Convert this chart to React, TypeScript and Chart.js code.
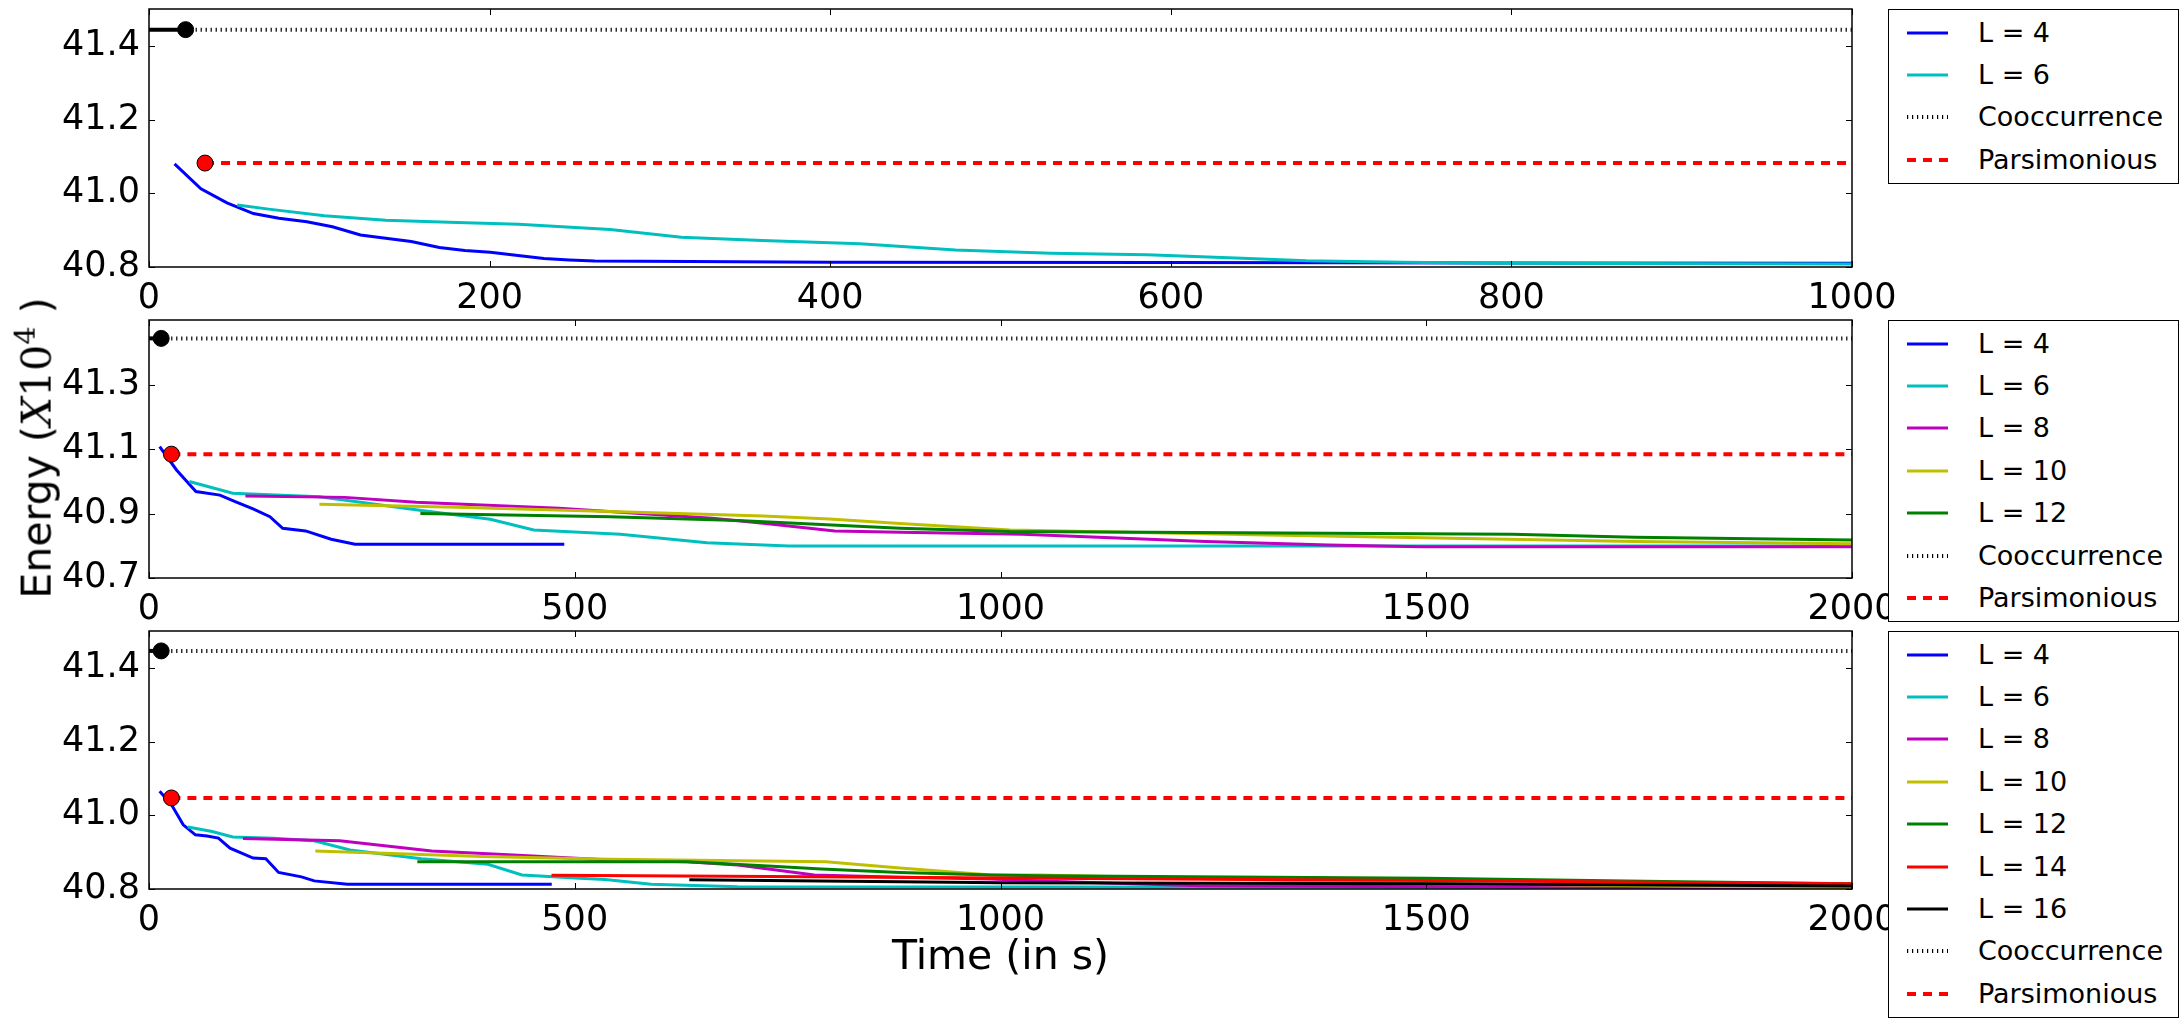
import { useEffect, useRef } from "react"
import { Chart, registerables } from "chart.js"

Chart.register(...registerables)

// [time (s), energy (x10^4)]
// top panel, 0-1000 s
const p1L4 = [
  [15, 41.08], [30.5, 41.012], [45.8, 40.974], [61.3, 40.945], [76.3, 40.932],
  [92.7, 40.923], [107.7, 40.909], [124.2, 40.887], [139, 40.878], [154, 40.869],
  [170.5, 40.853], [185.5, 40.845], [200.4, 40.84], [215.4, 40.832], [231.9, 40.823],
  [246.8, 40.819], [261.8, 40.816], [400, 40.813], [600, 40.812], [800, 40.811], [1000, 40.81],
]
const p1L6 = [
  [51.8, 40.968], [70.3, 40.957], [103, 40.939], [139, 40.927], [181, 40.921],
  [217, 40.916], [270.8, 40.902], [312.6, 40.881], [360, 40.872], [417.5, 40.863],
  [473.6, 40.846], [529.6, 40.837], [586, 40.833], [642, 40.824], [679.6, 40.817],
  [735.8, 40.813], [792, 40.81], [1000, 40.808],
]
const p1Cooc = [21.5, 41.444]
const p1Pars = [32.9, 41.082]

// middle panel, 0-2000 s
const p2L4 = [
  [12.5, 41.107], [32.3, 41.035], [55.1, 40.968], [83.3, 40.957], [101.2, 40.937],
  [122.2, 40.914], [142, 40.89], [157, 40.854], [183.9, 40.846], [213.9, 40.82],
  [242, 40.805], [487.7, 40.805],
]
const p2L6 = [
  [47.3, 40.999], [98.3, 40.963], [200, 40.952], [242, 40.937], [320, 40.909],
  [400.8, 40.882], [451.8, 40.849], [553.6, 40.836], [655.4, 40.809], [751.4, 40.799],
  [2000, 40.799],
]
const p2L8 = [
  [113.2, 40.954], [230, 40.95], [313.9, 40.935], [481.7, 40.916], [661.4, 40.885],
  [721.4, 40.87], [805.3, 40.846], [882, 40.842], [1025.8, 40.836], [1241, 40.813],
  [1385.5, 40.802], [1493, 40.797], [2000, 40.797],
]
const p2L10 = [
  [200.1, 40.929], [361.8, 40.919], [541.6, 40.906], [721.4, 40.892], [799.3, 40.883],
  [882, 40.869], [1011.4, 40.849], [1313.4, 40.833], [1529, 40.823], [1745, 40.813],
  [2000, 40.806],
]
const p2L12 = [
  [318.7, 40.9], [541.6, 40.89], [691.5, 40.878], [882, 40.854], [1011, 40.844],
  [1601, 40.836], [1745, 40.826], [2000, 40.818],
]
const p2Cooc = [14.3, 41.443]
const p2Pars = [26.3, 41.084]

// bottom panel, 0-2000 s
const p3L4 = [
  [12.5, 41.065], [26.3, 41.029], [40.2, 40.974], [54.5, 40.947], [68.2, 40.944],
  [81.5, 40.938], [95.2, 40.911], [122.3, 40.884], [137.2, 40.882], [152.2, 40.845],
  [179.1, 40.833], [194.1, 40.822], [233, 40.813], [473, 40.813],
]
const p3L6 = [
  [45.6, 40.968], [74.2, 40.956], [98.3, 40.941], [146.2, 40.938], [194.1, 40.931],
  [236, 40.906], [319.9, 40.882], [397.9, 40.867], [438, 40.838], [506, 40.829],
  [535.6, 40.826], [589.6, 40.813], [691.5, 40.806], [2000, 40.805],
]
const p3L8 = [
  [110.3, 40.937], [224.1, 40.931], [331.9, 40.903], [421.8, 40.893], [541.6, 40.879],
  [632, 40.874], [691.5, 40.865], [781.3, 40.838], [882, 40.832], [989, 40.827],
  [1046, 40.822], [1234, 40.809], [1500, 40.806], [2000, 40.803],
]
const p3L10 = [
  [195.3, 40.903], [391.9, 40.888], [541.6, 40.881], [795, 40.874], [882, 40.857],
  [989, 40.838], [1046, 40.838], [1500, 40.815], [2000, 40.803],
]
const p3L12 = [
  [315.1, 40.874], [632, 40.874], [721.5, 40.863], [789.7, 40.854], [882, 40.845],
  [989, 40.838], [1046, 40.836], [1500, 40.829], [1800, 40.82], [2000, 40.814],
]
const p3L14 = [[472.7, 40.837], [780, 40.833], [1000, 40.83], [1500, 40.823], [2000, 40.814]]
const p3L16 = [[634.5, 40.825], [882, 40.82], [1000, 40.817], [1500, 40.814], [2000, 40.808]]
const p3Cooc = [14.3, 41.446]
const p3Pars = [26.3, 41.047]

const xTicks1000 = [0, 200, 400, 600, 800, 1000]
const xTicks2000 = [0, 500, 1000, 1500, 2000]
const yTicksEven = [40.8, 41.0, 41.2, 41.4]
const yTicksOdd = [40.7, 40.9, 41.1, 41.3]

const FONT = "DejaVu Sans"
const CANVAS_W = 1912
const PAD_TOP = 40
const AREA_H = 258
const AXIS_H = 52

// matplotlib classic colours
const colors: Record<string, string> = {
  "L = 4": "#0000ff",
  "L = 6": "#00bfbf",
  "L = 8": "#bf00bf",
  "L = 10": "#bfbf00",
  "L = 12": "#008000",
  "L = 14": "#ff0000",
  "L = 16": "#000000",
}

const DOT = [1.2, 3.8]
const DASH = [9, 7]

type Series = { label: string; data: number[][] }

interface PanelProps {
  top: number
  xMax: number
  xTicks: number[]
  yMin: number
  yMax: number
  yTicks: number[]
  series: Series[]
  cooc: number[]
  pars: number[]
}

// spines on all four sides and inward ticks, like the old matplotlib style
const framePlugin = {
  id: "frame",
  afterDatasetsDraw(chart: any) {
    const { ctx, chartArea: a, scales } = chart
    const tl = 6
    ctx.save()
    ctx.strokeStyle = "#000"
    ctx.lineWidth = 1
    ctx.beginPath()
    scales.x.ticks.forEach((t: any) => {
      const px = Math.round(scales.x.getPixelForValue(t.value)) + 0.5
      ctx.moveTo(px, a.bottom)
      ctx.lineTo(px, a.bottom - tl)
      ctx.moveTo(px, a.top)
      ctx.lineTo(px, a.top + tl)
    })
    scales.y.ticks.forEach((t: any) => {
      const py = Math.round(scales.y.getPixelForValue(t.value)) + 0.5
      ctx.moveTo(a.left, py)
      ctx.lineTo(a.left + tl, py)
      ctx.moveTo(a.right, py)
      ctx.lineTo(a.right - tl, py)
    })
    ctx.stroke()
    ctx.lineWidth = 1.5
    ctx.strokeRect(a.left, a.top, a.right - a.left, a.bottom - a.top)
    ctx.restore()
  },
}

function Panel({ top, xMax, xTicks, yMin, yMax, yTicks, series, cooc, pars }: PanelProps) {
  const chartRef = useRef<HTMLCanvasElement>(null)
  const h = PAD_TOP + AREA_H + AXIS_H

  useEffect(() => {
    if (!chartRef.current) return
    const n = series.length + 2

    const datasets: any[] = series.map((s, i) => ({
      label: s.label,
      data: s.data.map(([x, y]) => ({ x, y })),
      borderColor: colors[s.label],
      borderWidth: 3,
      pointRadius: 0,
      tension: 0,
      fill: false,
      order: n - i,
    }))

    // solid until the result is available, dotted afterwards
    datasets.push({
      label: "Cooccurrence",
      data: [
        { x: 0, y: cooc[1] },
        { x: cooc[0], y: cooc[1] },
        { x: xMax, y: cooc[1] },
      ],
      borderColor: "#000",
      borderWidth: 4,
      pointRadius: [0, 8, 0],
      pointBackgroundColor: "#000",
      pointBorderColor: "#000",
      pointBorderWidth: 1,
      segment: {
        borderDash: (ctx: any) => (ctx.p0DataIndex === 0 ? undefined : DOT),
      },
      order: 2,
    })

    datasets.push({
      label: "Parsimonious",
      data: [
        { x: pars[0], y: pars[1] },
        { x: xMax, y: pars[1] },
      ],
      borderColor: "#ff0000",
      borderWidth: 4,
      borderDash: DASH,
      pointRadius: [8, 0],
      pointBackgroundColor: "#ff0000",
      pointBorderColor: "#000",
      pointBorderWidth: 1,
      order: 1,
    })

    const chart = new Chart(chartRef.current, {
      type: "line",
      data: { datasets },
      options: {
        animation: false,
        responsive: false,
        events: [],
        layout: { padding: { top: PAD_TOP, right: CANVAS_W - 1852, left: 0, bottom: 0 } },
        plugins: {
          legend: { display: false },
          tooltip: { enabled: false },
        },
        scales: {
          x: {
            type: "linear",
            min: 0,
            max: xMax,
            bounds: "data",
            grid: { display: false, drawTicks: false },
            border: { display: false },
            ticks: {
              color: "#000",
              font: { family: FONT, size: 35 },
              padding: 11,
              maxRotation: 0,
              autoSkip: false,
              callback: (v: any) => String(v),
            },
            afterBuildTicks: (s: any) => {
              s.ticks = xTicks.map((value) => ({ value }))
            },
            afterFit: (s: any) => {
              s.height = AXIS_H
            },
          },
          y: {
            type: "linear",
            min: yMin,
            max: yMax,
            bounds: "data",
            grid: { display: false, drawTicks: false },
            border: { display: false },
            ticks: {
              color: "#000",
              font: { family: FONT, size: 35 },
              padding: 9,
              autoSkip: false,
              callback: (v: any) => Number(v).toFixed(1),
            },
            afterBuildTicks: (s: any) => {
              s.ticks = yTicks.map((value) => ({ value }))
            },
            afterFit: (s: any) => {
              s.width = 149
            },
          },
        },
      },
      plugins: [framePlugin],
    })

    return () => {
      chart.destroy()
    }
  }, [])

  return (
    <canvas
      ref={chartRef}
      width={CANVAS_W}
      height={h}
      style={{ position: "absolute", left: 0, top: top - PAD_TOP, width: CANVAS_W, height: h }}
    />
  )
}

type LegendItem = { label: string; color: string; dash?: number[]; width: number }

function Legend({ top, labels }: { top: number; labels: string[] }) {
  const items: LegendItem[] = [
    ...labels.map((l) => ({ label: l, color: colors[l], width: 3 })),
    { label: "Cooccurrence", color: "#000", dash: DOT, width: 4 },
    { label: "Parsimonious", color: "#ff0000", dash: DASH, width: 4 },
  ]
  const pad = 24
  const step = 42.4
  const height = pad * 2 + (items.length - 1) * step
  return (
    <div
      style={{
        position: "absolute",
        left: 1888,
        top,
        width: 291,
        height,
        boxSizing: "border-box",
        border: "1.5px solid #000",
        background: "#fff",
        zIndex: 2,
      }}
    >
      {items.map((it, i) => (
        <div
          key={it.label}
          style={{
            position: "absolute",
            left: 0,
            top: pad + i * step - 21 - 1.5,
            height: 42,
            width: "100%",
            display: "flex",
            alignItems: "center",
          }}
        >
          <svg width={41} height={8} style={{ position: "absolute", left: 18 }}>
            <line
              x1={0}
              y1={4}
              x2={41}
              y2={4}
              stroke={it.color}
              strokeWidth={it.width}
              strokeDasharray={it.dash ? it.dash.join(" ") : undefined}
            />
          </svg>
          <span
            style={{
              position: "absolute",
              left: 89,
              fontSize: 27,
              lineHeight: "42px",
              color: "#000",
              whiteSpace: "nowrap",
            }}
          >
            {it.label}
          </span>
        </div>
      ))}
    </div>
  )
}

const mk = (label: string, data: number[][]): Series => ({ label, data })

export default function App() {
  const serif = "DejaVu Serif"
  return (
    <div
      style={{
        position: "absolute",
        left: 0,
        top: 0,
        width: 2183,
        height: 1026,
        overflow: "hidden",
        background: "#fff",
        fontFamily: FONT,
      }}
    >
      <Panel
        top={9}
        xMax={1000}
        xTicks={xTicks1000}
        yMin={40.8}
        yMax={41.5}
        yTicks={yTicksEven}
        series={[mk("L = 4", p1L4), mk("L = 6", p1L6)]}
        cooc={p1Cooc}
        pars={p1Pars}
      />
      <Panel
        top={320}
        xMax={2000}
        xTicks={xTicks2000}
        yMin={40.7}
        yMax={41.5}
        yTicks={yTicksOdd}
        series={[
          mk("L = 4", p2L4),
          mk("L = 6", p2L6),
          mk("L = 8", p2L8),
          mk("L = 10", p2L10),
          mk("L = 12", p2L12),
        ]}
        cooc={p2Cooc}
        pars={p2Pars}
      />
      <Panel
        top={631}
        xMax={2000}
        xTicks={xTicks2000}
        yMin={40.8}
        yMax={41.5}
        yTicks={yTicksEven}
        series={[
          mk("L = 4", p3L4),
          mk("L = 6", p3L6),
          mk("L = 8", p3L8),
          mk("L = 10", p3L10),
          mk("L = 12", p3L12),
          mk("L = 14", p3L14),
          mk("L = 16", p3L16),
        ]}
        cooc={p3Cooc}
        pars={p3Pars}
      />

      <Legend top={9} labels={["L = 4", "L = 6"]} />
      <Legend top={320} labels={["L = 4", "L = 6", "L = 8", "L = 10", "L = 12"]} />
      <Legend top={631} labels={["L = 4", "L = 6", "L = 8", "L = 10", "L = 12", "L = 14", "L = 16"]} />

      <div
        style={{
          position: "absolute",
          left: 1000.5,
          top: 955,
          transform: "translate(-50%, -50%)",
          fontSize: 41,
          lineHeight: 1,
          whiteSpace: "nowrap",
          zIndex: 1,
        }}
      >
        Time (in s)
      </div>
      <div
        style={{
          position: "absolute",
          left: 34,
          top: 448,
          transform: "translate(-50%, -50%) rotate(-90deg)",
          fontSize: 41,
          lineHeight: 1,
          whiteSpace: "nowrap",
          zIndex: 1,
        }}
      >
        Energy (
        <span style={{ fontFamily: serif, fontStyle: "italic" }}>X</span>
        <span style={{ fontFamily: serif }}>10</span>
        <sup style={{ fontFamily: serif, fontSize: "0.7em", verticalAlign: "0.55em" }}>4</sup> )
      </div>
    </div>
  )
}
